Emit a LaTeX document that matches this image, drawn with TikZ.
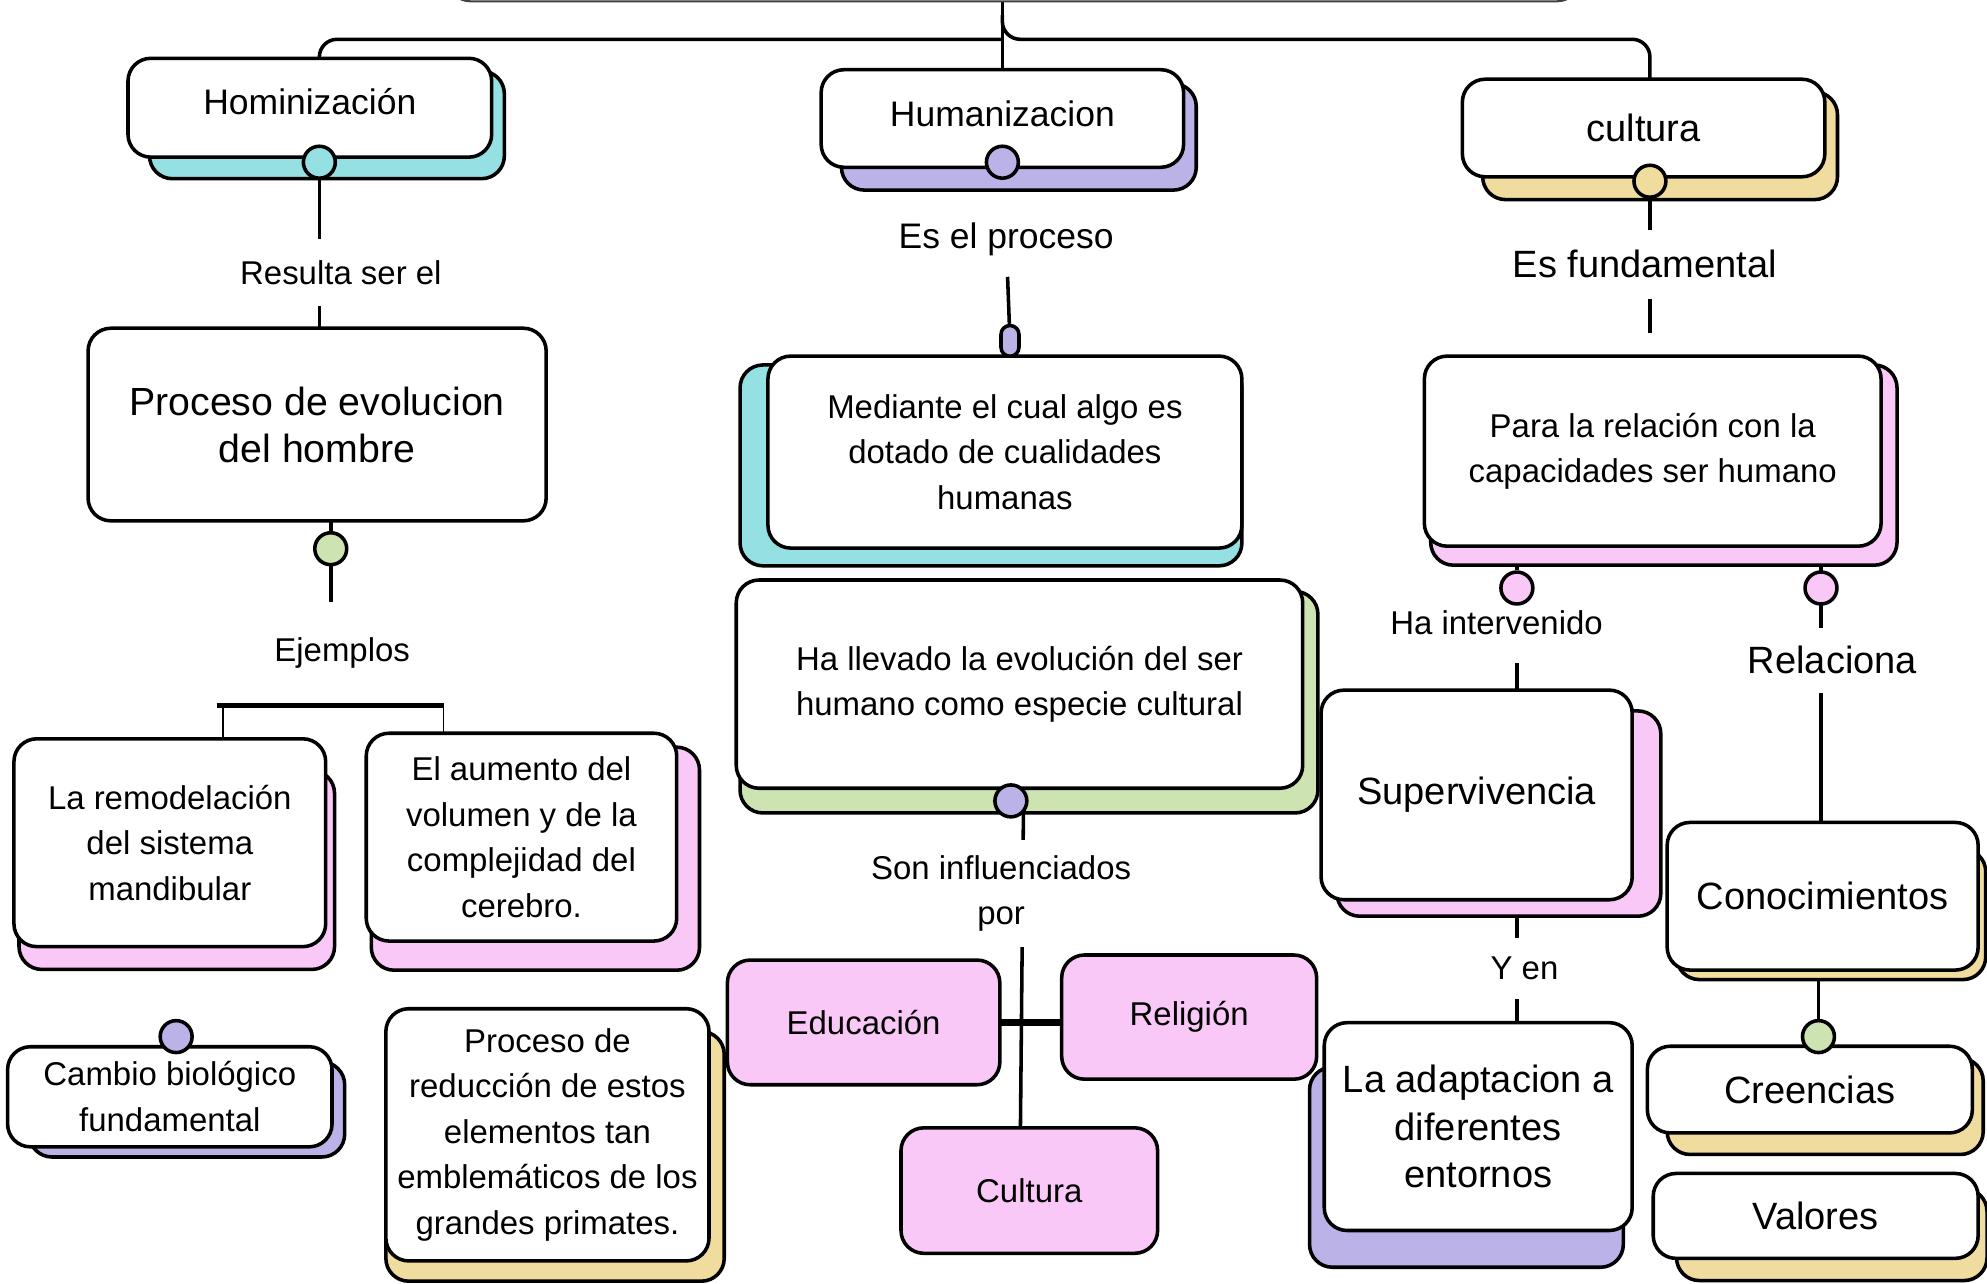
\documentclass[tikz,border=0pt]{standalone}
\usepackage{fontspec}
\setmainfont{Liberation Sans}
\usetikzlibrary{backgrounds}
\definecolor{cian}{HTML}{94E0E2}
\definecolor{lila}{HTML}{BBB3E8}
\definecolor{amarillo}{HTML}{F1DC9F}
\definecolor{rosa}{HTML}{F9C8F6}
\definecolor{verde}{HTML}{CDE3B1}
\newcommand{\fchica}{\fontsize{13}{18}\selectfont}
\newcommand{\fmedia}{\fontsize{14}{18}\selectfont}
\newcommand{\fgrande}{\fontsize{15}{18.75}\selectfont}
\newcommand{\sombra}[4]{\draw[sombra, fill=#2] ([shift={#3}]#1.north west) rectangle ([shift={#4}]#1.south east);}
\tikzstyle{caja} = [draw=black, fill=white, line width=1.4pt, rounded corners=9pt, inner sep=0pt, outer sep=0pt, align=center, font=\fchica]
\tikzstyle{cajaR} = [caja, fill=rosa]
\tikzstyle{sombra} = [draw=black, line width=1.4pt, rounded corners=9pt]
\tikzstyle{etiq} = [fill=white, inner sep=2pt, align=center, font=\fchica]
\tikzstyle{linea} = [draw=black, line width=1.4pt]

\begin{document}
\begin{tikzpicture}[x=0.5pt, y=-0.5pt,
  punto/.style={circle, draw=black, line width=1.4pt, minimum size=12.6pt, inner sep=0pt},
  pildora/.style={rectangle, draw=black, line width=1.4pt, rounded corners=3.5pt, minimum width=7.1pt, minimum height=12.1pt, inner sep=0pt}]
\useasboundingbox (0,0) rectangle (1568,1013);

% Titulo (solo asoma el borde de abajo)
\node[draw=black!75, line width=0.8pt, rounded corners=9pt, minimum width=447pt, minimum height=41pt] (tit) at (800,-40) {};

% Cajas
\node[caja, font=\fmedia, text depth=5pt, minimum width=143.5pt, minimum height=39pt]   (hom)  at (244.5,85)    {Hominización};
\node[caja, font=\fmedia, text depth=3.5pt, minimum width=143pt, minimum height=38.5pt] (hum)  at (791,93.5)    {Humanizacion};
\node[caja, font=\fgrande, minimum width=143pt, minimum height=38.5pt]  (cul)  at (1297,101)    {cultura};
\node[caja, font=\fontsize{15.5}{18.5}\selectfont, minimum width=180.75pt, minimum height=76pt] (proc) at (250.25,335) {Proceso de evolucion\\del hombre};
\node[caja, minimum width=123pt, minimum height=82pt]     (remo) at (134,665)     {La remodelación\\del sistema\\mandibular};
\node[caja, minimum width=122.5pt, minimum height=82pt]   (aum)  at (411.5,660.6) {El aumento del\\volumen y de la\\complejidad del\\cerebro.};
\node[caja, minimum width=128pt, minimum height=39.5pt]   (camb) at (134,865.5)   {Cambio biológico\\fundamental};
\node[caja, minimum width=127.5pt, minimum height=99.5pt] (red)  at (432,895.5)   {Proceso de\\reducción de estos\\elementos tan\\emblemáticos de los\\grandes primates.};
\node[caja, minimum width=187pt, minimum height=75.75pt]  (med)  at (793,356.75)  {Mediante el cual algo es\\dotado de cualidades\\humanas};
\node[caja, minimum width=223.5pt, minimum height=82.15pt] (llev) at (804.5,539.85) {Ha llevado la evolución del ser\\humano como especie cultural};
\node[caja, minimum width=180.2pt, minimum height=75pt]   (para) at (1304.2,356)  {Para la relación con la\\capacidades ser humano};
\node[caja, font=\fgrande, minimum width=122.75pt, minimum height=82.7pt] (sup)  at (1165.25,627.3) {Supervivencia};
\node[caja, font=\fgrande, minimum width=121.5pt, minimum height=82pt]    (adap) at (1166.5,889)    {La adaptacion a\\diferentes\\entornos};
\node[caja, font=\fgrande, minimum width=122.7pt, minimum height=58.25pt] (cono) at (1438.3,707.25) {Conocimientos};
\node[caja, font=\fgrande, minimum width=128.2pt, minimum height=34.2pt]  (cree) at (1428.2,859.8)  {Creencias};
\node[caja, font=\fgrande, minimum width=128.2pt, minimum height=33.5pt]  (val)  at (1432.8,959.5)  {Valores};
\node[cajaR, minimum width=107.5pt, minimum height=49.2pt]  (edu)   at (681.5,806.8)  {Educación};
\node[cajaR, minimum width=100.6pt, minimum height=49pt]    (rel)   at (938.4,802.6)  {Religión};
\node[cajaR, minimum width=101.25pt, minimum height=49.5pt] (cultp) at (812.25,939.5) {Cultura};

% Etiquetas
\node[etiq, minimum height=26.5pt]               (l1) at (269,215) {Resulta ser el};
\node[etiq, font=\fmedia, minimum height=29pt]   (l2) at (794,189)   {Es el proceso};
\node[etiq, font=\fgrande, minimum height=27.3pt] (l3) at (1298,208.4) {Es fundamental};
\node[etiq, minimum height=42.5pt]               (l4) at (790,705)   {Son influenciados\\por};
\node[etiq, minimum height=31.3pt]               (l5) at (1181,491.7) {Ha intervenido};
\node[etiq, font=\fgrande, minimum height=25.5pt] (l6) at (1446,521)  {Relaciona};
\node[etiq, minimum height=24pt]                 (l7) at (1203,764)  {Y en};
\node[etiq, minimum height=40pt]                 (l8) at (270,515)   {Ejemplos};

% Puntos
\node[punto, fill=cian]     (dHom)   at (252,128)   {};
\node[punto, fill=lila]     (dHum)   at (791,128)   {};
\node[punto, fill=amarillo] (dCul)   at (1302,143)  {};
\node[punto, fill=verde]    (dProc)  at (261,433)   {};
\node[pildora, fill=lila]   (pMed)   at (797,269)   {};
\node[punto, fill=lila]     (dLlev)  at (797.7,632) {};
\node[punto, fill=lila]     (dCamb)  at (139,818)   {};
\node[punto, fill=rosa]     (dParaL) at (1197,464)  {};
\node[punto, fill=rosa]     (dParaR) at (1437,464)  {};
\node[punto, fill=verde]    (dCono)  at (1435,818)  {};

\coordinate (barra) at (791,31);
\coordinate (bif)   at (791,12);
\coordinate (ejA)   at (171,557);
\coordinate (ejL)   at (176,557);
\coordinate (ejR)   at (350,557);

\begin{scope}[on background layer]
% Conectores
\draw[linea] (hum.north |- tit.south) -- (hum.north);
\draw[linea, rounded corners=7pt] (barra) -| (dHom |- hom.north);
\draw[linea, rounded corners=7pt] (bif) |- (dCul |- barra) -- (dCul |- cul.north);
\draw[linea] (dHom) -- (dHom |- proc.north);
\draw[linea] (proc.south -| dProc) -- (dProc |- ejA);
\draw[line width=2pt] (ejA) -- (ejR);
\draw[line width=0.75pt] (ejL) -- (ejL |- remo.north);
\draw[line width=0.75pt] (ejR) -- (ejR |- aum.north);
\draw[linea] (l2) -- (pMed);
\draw[linea, shorten >=9pt] (dCul) -- (dCul |- para.north);
\draw[linea] ([xshift=-2pt]dLlev.east) -- ([xshift=-3.5pt]cultp.north);
\draw[line width=2.6pt] (edu.east) -- (edu.east -| rel.west);
\draw[linea] (para.south -| dParaL) -- (dParaL);
\draw[linea] (l5.south -| dParaL) -- (dParaL |- sup.north);
\draw[linea] (sup.south -| dParaL) -- (dParaL |- adap.north);
\draw[linea] (para.south -| dParaR) -- (dParaR |- cono.north);
\draw[linea] (cono.south -| dCono) -- (dCono);

% Sombras
\sombra{hom}{cian}{(17,10)}{(10,17)}
\sombra{hum}{lila}{(16,11)}{(10,18)}
\sombra{cul}{amarillo}{(16,10)}{(10,18)}
\sombra{remo}{rosa}{(4,25)}{(7,18)}
\sombra{aum}{rosa}{(4,11)}{(18,23)}
\sombra{camb}{lila}{(17,12)}{(10,8)}
\sombra{red}{amarillo}{(0,18)}{(12,16)}
\sombra{med}{cian}{(-22,7)}{(0,14)}
\sombra{llev}{verde}{(3,9)}{(12,19.5)}
\sombra{para}{rosa}{(5,7)}{(12.6,15)}
\sombra{sup}{rosa}{(12.5,16.4)}{(22.6,13)}
\sombra{adap}{lila}{(-11.6,35)}{(-7,29)}
\sombra{cono}{amarillo}{(7.4,21)}{(6,7.5)}
\sombra{cree}{amarillo}{(15.6,9.4)}{(8.6,17)}
\sombra{val}{amarillo}{(18.4,12)}{(7,17.5)}
\end{scope}
\end{tikzpicture}
\end{document}
